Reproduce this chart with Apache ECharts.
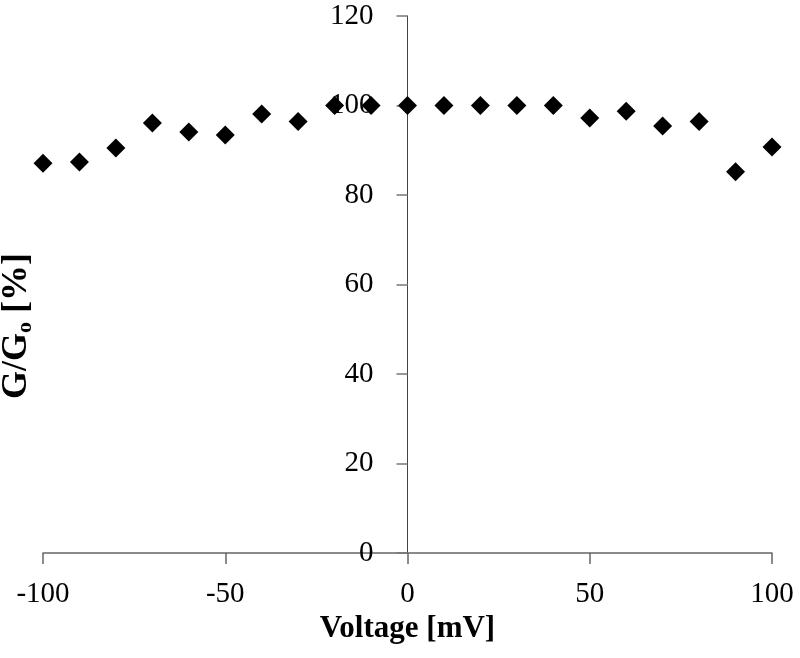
<!DOCTYPE html>
<html>
<head>
<meta charset="utf-8">
<script src="https://cdn.jsdelivr.net/npm/echarts@6/dist/echarts.min.js"></script>
<style>
html, body { margin: 0; padding: 0; background: #fff; }
#chart { width: 800px; height: 658px; }
</style>
</head>
<body>
<div id="chart"></div>
<script>
// voltage steps (mV) and the measured G/G0 (%)
var voltage = [-100, -90, -80, -70, -60, -50, -40, -30, -20, -10, 0, 10, 20, 30, 40, 50, 60, 70, 80, 90, 100];
var conductance = [87.1, 87.4, 90.5, 96.1, 94.1, 93.4, 98.1, 96.4, 100, 100, 100, 100, 100, 100, 100, 97.2, 98.7, 95.4, 96.4, 85.2, 90.7];

var points = voltage.map(function (v, i) { return [v, conductance[i]]; });

var myChart = echarts.init(document.getElementById('chart'));
var serif = "'Liberation Serif', 'DejaVu Serif', serif";

// grid: x from 43 to 772, y from 16 to 553; the y axis sits at x = 0
var gridLeft = 43, gridRight = 28;
var plotW = 800 - gridLeft - gridRight;
var yAxisShift = plotW / 2;

var option = {
    animation: false,
    grid: { left: gridLeft, right: gridRight, top: 16, bottom: 105, containLabel: false, outerBoundsMode: 'none' },
    // y axis title, rotated, with subscript o
    graphic: [{
        type: 'text',
        x: 17,
        y: 326,
        rotation: Math.PI / 2,
        style: {
            text: '{b|G/G}{s|o}{b| [%]}',
            align: 'center',
            verticalAlign: 'middle',
            rich: {
                b: { fontFamily: serif, fontSize: 36, fontWeight: 'bold', fill: '#000' },
                s: { fontFamily: serif, fontSize: 22, fontWeight: 'bold', fill: '#000', padding: [16, 0, 0, 0] }
            }
        }
    }],
    xAxis: {
        type: 'value',
        min: -100, max: 100, interval: 50,
        name: 'Voltage [mV]',
        nameLocation: 'middle',
        nameGap: 60,
        nameTextStyle: { fontFamily: serif, fontSize: 31, fontWeight: 'bold', color: '#000' },
        axisLine: { onZero: false, lineStyle: { color: '#666', width: 1.5 } },
        axisTick: { show: true, length: 11, lineStyle: { color: '#666', width: 1.5 } },
        axisLabel: { fontFamily: serif, fontSize: 29, color: '#000', margin: 27 },
        splitLine: { show: false }
    },
    yAxis: {
        type: 'value',
        min: 0, max: 120, interval: 20,
        offset: -yAxisShift,
        axisLine: { show: true, onZero: false, lineStyle: { color: '#444', width: 1 } },
        axisTick: { show: true, length: 11, lineStyle: { color: '#777', width: 1.5 } },
        axisLabel: { fontFamily: serif, fontSize: 29, color: '#000', margin: 34 },
        splitLine: { show: false }
    },
    series: [{
        type: 'scatter',
        symbol: 'diamond',
        symbolSize: 19,
        itemStyle: { color: '#000', opacity: 1 },
        data: points
    }]
};

myChart.setOption(option);
</script>
</body>
</html>
